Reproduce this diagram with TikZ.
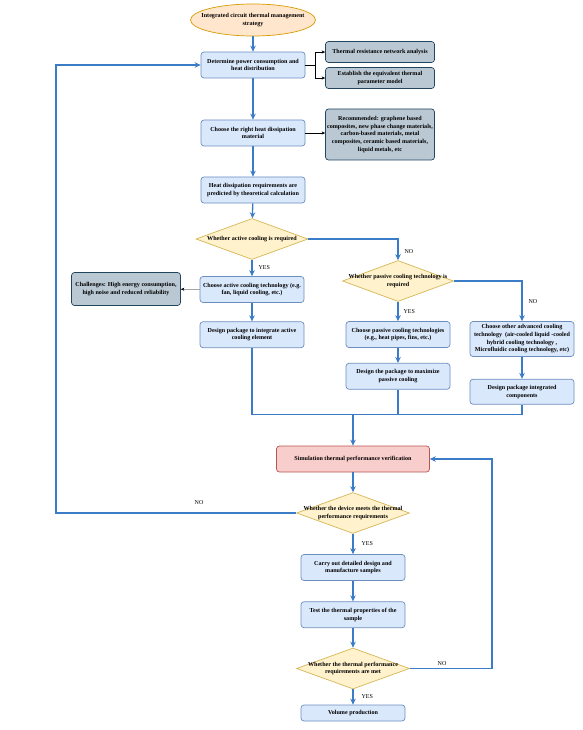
\documentclass[tikz,border=0pt]{standalone}
\usepackage{fontspec}
\setmainfont{Liberation Serif}
\usetikzlibrary{shapes.geometric,arrows.meta}
\definecolor{boxfill}{HTML}{DAE8FC}
\definecolor{boxline}{HTML}{6C8EBF}
\definecolor{notefill}{HTML}{BAC8D3}
\definecolor{noteline}{HTML}{23445D}
\definecolor{askfill}{HTML}{FFF2CC}
\definecolor{askline}{HTML}{D6B656}
\definecolor{startfill}{HTML}{FFE6CC}
\definecolor{startline}{HTML}{D79B00}
\definecolor{simfill}{HTML}{F8CECC}
\definecolor{simline}{HTML}{B85450}
\definecolor{flowline}{HTML}{3A7CC7}
\begin{document}
\begin{tikzpicture}[x=1pt,y=-1pt,
    txt/.style={font=\fontsize{6.1}{7.7}\selectfont\bfseries, align=center, inner sep=1pt},
    stepbox/.style={txt, draw=boxline, line width=0.7pt, fill=boxfill, rounded corners=3pt, minimum width=104pt, minimum height=26pt},
    notebox/.style={txt, draw=noteline, line width=0.7pt, fill=notefill, rounded corners=3pt, minimum width=109pt, minimum height=21pt},
    decision/.style={diamond, draw=askline, line width=0.7pt, fill=askfill, minimum width=112pt, minimum height=41pt, inner sep=0pt},
    answer/.style={font=\fontsize{6}{7}\selectfont, inner sep=0pt},
    flow/.style={draw=flowline, line width=1.3pt, -{Stealth[length=6pt,width=5.5pt]}},
    joint/.style={draw=flowline, line width=1.3pt},
    aside/.style={draw=black, line width=0.4pt, -{Stealth[length=3.5pt,width=3pt]}}]
\useasboundingbox (0,0) rectangle (582,730);
\node[ellipse, draw=startline, line width=0.7pt, fill=startfill, minimum width=125pt, minimum height=32pt] (start) at (253,20) {};
\node[txt] (startt) at (start) {Integrated circuit thermal management\\strategy};
\node[stepbox] (power) at (253,65) {Determine power consumption and\\heat distribution};
\node[notebox] (tres) at (380,52) {Thermal resistance network analysis};
\node[notebox] (equiv) at (380,78) {Establish the equivalent thermal\\parameter model};
\node[stepbox] (mat) at (253,133) {Choose the right heat dissipation\\material};
\node[notebox, minimum height=51pt] (rec) at (380,134.5) {Recommended: graphene based\\composites, new phase change materials,\\carbon-based materials, metal\\composites, ceramic based materials,\\liquid metals, etc};
\node[stepbox] (heat) at (253,190) {Heat dissipation requirements are\\predicted by theoretical calculation};
\node[decision] (act) at (252,239) {};
\node[txt] (actt) at (act) {Whether active cooling is required};
\node[stepbox] (actsel) at (252,289.5) {Choose active cooling technology (e.g.\\fan, liquid cooling, etc.)};
\node[notebox, minimum height=33pt] (chal) at (126,289) {Challenges: High energy consumption,\\high noise and reduced reliability};
\node[stepbox] (actpkg) at (252,334.7) {Design package to integrate active\\cooling element};
\node[decision, minimum width=111pt] (pas) at (398,281) {};
\node[txt] (past) at (pas) {Whether passive cooling technology is\\required};
\node[stepbox] (passel) at (398,334.5) {Choose passive cooling technologies\\(e.g., heat pipes, fins, etc.)};
\node[stepbox] (paspkg) at (398,376.3) {Design the package to maximize\\passive cooling};
\node[stepbox, minimum height=35pt] (other) at (522,339) {Choose other advanced cooling\\technology\ \ (air-cooled liquid -cooled\\hybrid cooling technology\ ,\\Microfluidic cooling technology, etc)};
\node[stepbox, minimum height=25pt] (othpkg) at (522,391.7) {Design package integrated\\components};
\node[stepbox, draw=simline, fill=simfill, minimum width=153pt] (sim) at (353,459) {Simulation thermal performance verification};
\node[decision, minimum width=113pt] (dev) at (353,513) {};
\node[txt] (devt) at (dev) {Whether the device meets the thermal\\performance requirements};
\node[stepbox] (carry) at (353,567.5) {Carry out detailed design and\\manufacture samples};
\node[stepbox] (test) at (353,614.7) {Test the thermal properties of the\\sample};
\node[decision, minimum width=113pt] (req) at (353,668.5) {};
\node[txt] (reqt) at (req) {Whether the thermal performance\\requirements are met};
\node[stepbox, minimum height=16pt] (vol) at (353,713) {Volume production};
\coordinate (fork) at (315,65);
\coordinate (merge) at (353,414.3);
\coordinate (back) at (56,513);
\coordinate (again) at (492,668.5);
\draw[flow] (start) -- (power);
\draw[aside] (power.east) -- (fork) |- (tres.west);
\draw[aside] (fork) |- (equiv.west);
\draw[flow] (power) -- (mat);
\draw[aside] (mat.east) -- (mat.east -| rec.west);
\draw[flow] (mat) -- (heat);
\draw[flow] (heat) -- (act);
\draw[flow] (act) -- node[answer, right=6pt] (ay) {YES} (actsel);
\draw[aside] (actsel) -- (chal);
\draw[flow] (actsel) -- (actpkg);
\draw[flow] (act.east) -| node[answer, pos=0.8, right=6pt] (an) {NO} (pas.north);
\draw[flow] (pas) -- node[answer, right=5pt] (py) {YES} (passel);
\draw[flow] (pas.east) -| node[answer, pos=0.75, right=6pt] (pn) {NO} (other.north);
\draw[flow] (passel) -- (paspkg);
\draw[flow] (other) -- (othpkg);
\draw[joint] (actpkg.south) |- (othpkg.south |- merge) -- (othpkg.south);
\draw[joint] (paspkg.south) -- (paspkg.south |- merge);
\draw[flow] (merge) -- (sim);
\draw[flow] (sim) -- (dev);
\draw[flow] (dev.west) -- (back) |- (power.west);
\node[answer] (dn) at (199,503) {NO};
\draw[flow] (dev) -- node[answer, right=8pt] (dy) {YES} (carry);
\draw[flow] (carry) -- (test);
\draw[flow] (test) -- (req);
\draw[flow] (req.east) -- (again) |- (sim.east);
\node[answer] (rn) at (442,663.3) {NO};
\draw[flow] (req) -- node[answer, right=8pt] (ry) {YES} (vol);
\end{tikzpicture}
\end{document}
